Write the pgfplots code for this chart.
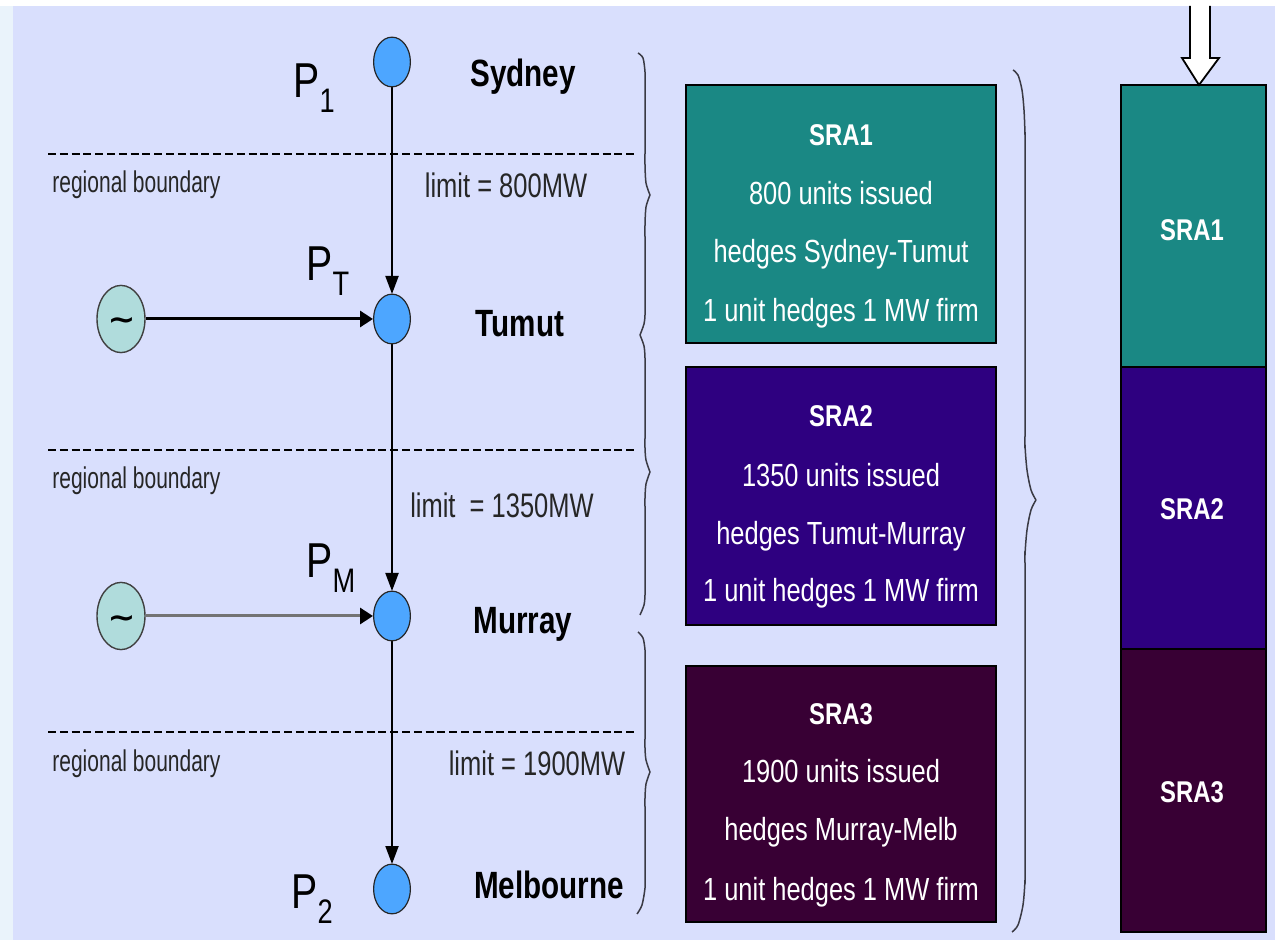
\documentclass[border=0pt]{standalone}
\usepackage{fontspec}
\usepackage{pgfplots}
\pgfplotsset{compat=1.18}
\usetikzlibrary{arrows.meta}
\setmainfont{Liberation Sans}
\newfontfamily\boxfont[FakeStretch=0.795]{Liberation Sans}
\newfontfamily\bndfont[FakeStretch=0.70]{Liberation Sans}
\newfontfamily\limfont[FakeStretch=0.75]{Liberation Sans}
\newfontfamily\cityfont[FakeStretch=0.78]{Liberation Sans}
\newfontfamily\pfont[FakeStretch=0.80]{Liberation Sans}
\newfontfamily\tildefont[FakeStretch=1.15]{DejaVu Sans}
\definecolor{bgblue}{HTML}{D9DFFD}
\definecolor{edgeblue}{HTML}{EAF3FB}
\definecolor{sraone}{HTML}{1A8884}
\definecolor{sratwo}{HTML}{2E0080}
\definecolor{srathree}{HTML}{380034}
\definecolor{nodeblue}{HTML}{4DA6FF}
\definecolor{gencol}{HTML}{B0DCDC}
\definecolor{bracecol}{HTML}{3A3A44}
\newcommand{\Psub}[2]{\pfont\fontsize{24.5}{24.5}\selectfont P\raisebox{-#2}{\fontsize{17}{17}\selectfont #1}}
\tikzset{
  boxtxt/.style={anchor=base,inner sep=0pt,text=white,font=\boxfont\fontsize{16}{16}\selectfont},
  boxhead/.style={anchor=base,inner sep=0pt,text=white,font=\boxfont\bfseries\fontsize{15}{15}\selectfont},
  bnd/.style={anchor=base west,inner sep=0pt,text=black!85,font=\bndfont\fontsize{15}{15}\selectfont},
  lim/.style={anchor=base,inner sep=0pt,text=black!85,font=\limfont\fontsize{17}{17}\selectfont},
  city/.style={anchor=base,inner sep=0pt,font=\cityfont\bfseries\fontsize{19}{19}\selectfont},
  pl/.style={anchor=base west,inner sep=0pt},
  link/.style={black,line width=1pt,-{Triangle[length=9pt,width=6.5pt]}},
  genlink/.style={line width=1.5pt,-{Triangle[length=6.5pt,width=8pt,black]}},
  bound/.style={black,line width=0.9pt,dash pattern=on 4pt off 1.9pt},
  brace/.style={bracecol,line width=0.75pt,smooth,tension=0.5}
}
\begin{document}
\begin{tikzpicture}
\begin{axis}[
    x=0.5pt, y=0.5pt, y dir=reverse,
    xmin=0, xmax=1275, ymin=0, ymax=940,
    hide axis, clip=true
]
% background
\addplot[fill=white,draw=none] coordinates {(0,0) (1275,0) (1275,940) (0,940)} --cycle;
\addplot[fill=edgeblue,draw=none] coordinates {(0,6) (13,6) (13,940) (0,940)} --cycle;
\addplot[fill=bgblue,draw=none] coordinates {(13,6) (1275,6) (1275,940) (13,940)} --cycle;

% regional boundaries
\addplot[bound] coordinates {(48,154) (636,154)};
\addplot[bound] coordinates {(48,450) (636,450)};
\addplot[bound] coordinates {(48,732) (636,732)};

% line and generator flows
\addplot[link] coordinates {(392,87) (392,294)};
\addplot[link] coordinates {(392,344) (392,591)};
\addplot[link] coordinates {(392,641) (392,864)};
\addplot[genlink,draw=black] coordinates {(146,319) (373,319)};
\addplot[genlink,draw=black!55] coordinates {(146,616) (373,616)};

% buses
\addplot[only marks,mark=*,mark size=9.2pt,
  mark options={yscale=1.35,fill=nodeblue,draw=black!85,line width=0.6pt}]
  coordinates {(392,62) (392,319) (392,616) (392,889)};
% generators
\addplot[only marks,mark=*,mark size=12pt,
  mark options={yscale=1.4,fill=gencol,draw=black!75,line width=0.7pt}]
  coordinates {(121,319) (121,616)};
\addplot[only marks,mark=text,
  text mark={\tildefont\bfseries\fontsize{14.5}{14.5}\selectfont ∼},
  text mark as node=true,
  mark options={black}]
  coordinates {(121.5,323) (121.5,621)};

% braces
\addplot[brace] coordinates {(638,53) (643,58) (645,72) (645,85) (645,150) (645,165) (646,183) (650,195)};
\addplot[brace] coordinates {(650,195) (646,207) (645,225) (645,240) (645,300) (645,315) (644,324) (640,335)};
\addplot[brace] coordinates {(640,335) (644,346) (645,358) (645,370) (645,435) (645,448) (646,460) (650,472)};
\addplot[brace] coordinates {(650,472) (646,484) (645,498) (645,510) (645,582) (645,595) (644,605) (640,615)};
\addplot[brace] coordinates {(638,632) (643,638) (645,650) (645,662) (645,735) (645,748) (646,760) (650,772)};
\addplot[brace] coordinates {(650,772) (646,784) (645,798) (645,810) (645,875) (645,888) (642,905) (637,914)};
\addplot[brace] coordinates {(1013,70) (1018,75) (1022,90) (1024,110) (1025,135) (1025,155) (1025,425) (1025,445) (1027,470) (1031,490) (1036,500)};
\addplot[brace] coordinates {(1036,500) (1031,510) (1027,530) (1025,555) (1025,575) (1025,860) (1025,880) (1023,905) (1018,925) (1012,932)};

% SRA boxes
\addplot[fill=sraone,draw=black,line width=1pt] coordinates {(686,85) (996,85) (996,343) (686,343)} --cycle;
\addplot[fill=sratwo,draw=black,line width=1pt] coordinates {(686,367) (996,367) (996,625) (686,625)} --cycle;
\addplot[fill=srathree,draw=black,line width=1pt] coordinates {(686,666) (996,666) (996,922) (686,922)} --cycle;

% right column
\addplot[fill=sraone,draw=black,line width=1pt] coordinates {(1121,85) (1266,85) (1266,367) (1121,367)} --cycle;
\addplot[fill=sratwo,draw=black,line width=1pt] coordinates {(1121,367) (1266,367) (1266,649) (1121,649)} --cycle;
\addplot[fill=srathree,draw=black,line width=1pt] coordinates {(1121,649) (1266,649) (1266,932) (1121,932)} --cycle;

% block arrow, cut at the top of the panel
\addplot[fill=white,draw=black,line width=0.9pt] coordinates {(1190,6) (1190,58) (1182,58) (1199,85) (1219,58) (1210,58) (1210,6)};

% labels
\node[city] at (axis cs:523,87) {Sydney};
\node[city] at (axis cs:520,337) {Tumut};
\node[city] at (axis cs:523,634) {Murray};
\node[city] at (axis cs:549,898) {Melbourne};

\node[pl] at (axis cs:293,98) {\Psub{1}{7.5pt}};
\node[pl] at (axis cs:306,281) {\Psub{T}{7.5pt}};
\node[pl] at (axis cs:306,578) {\Psub{M}{7.5pt}};
\node[pl] at (axis cs:291,908) {\Psub{2}{7.5pt}};

\node[bnd] at (axis cs:52,193) {regional boundary};
\node[bnd] at (axis cs:52,489) {regional boundary};
\node[bnd] at (axis cs:52,771) {regional boundary};

\node[lim] at (axis cs:506,198) {limit = 800MW};
\node[lim] at (axis cs:502,518) {limit\ \ = 1350MW};
\node[lim] at (axis cs:537,776) {limit = 1900MW};

\node[boxhead] at (axis cs:841,146) {SRA1};
\node[boxtxt] at (axis cs:841,205) {800 units issued};
\node[boxtxt] at (axis cs:841,263) {hedges Sydney-Tumut};
\node[boxtxt] at (axis cs:841,322) {1 unit hedges 1 MW firm};

\node[boxhead] at (axis cs:841,427) {SRA2};
\node[boxtxt] at (axis cs:841,487) {1350 units issued};
\node[boxtxt] at (axis cs:841,545) {hedges Tumut-Murray};
\node[boxtxt] at (axis cs:841,602) {1 unit hedges 1 MW firm};

\node[boxhead] at (axis cs:841,725) {SRA3};
\node[boxtxt] at (axis cs:841,783) {1900 units issued};
\node[boxtxt] at (axis cs:841,841) {hedges Murray-Melb};
\node[boxtxt] at (axis cs:841,900) {1 unit hedges 1 MW firm};

\node[boxhead] at (axis cs:1192,241) {SRA1};
\node[boxhead] at (axis cs:1192,520) {SRA2};
\node[boxhead] at (axis cs:1192,802) {SRA3};
\end{axis}
\end{tikzpicture}
\end{document}
